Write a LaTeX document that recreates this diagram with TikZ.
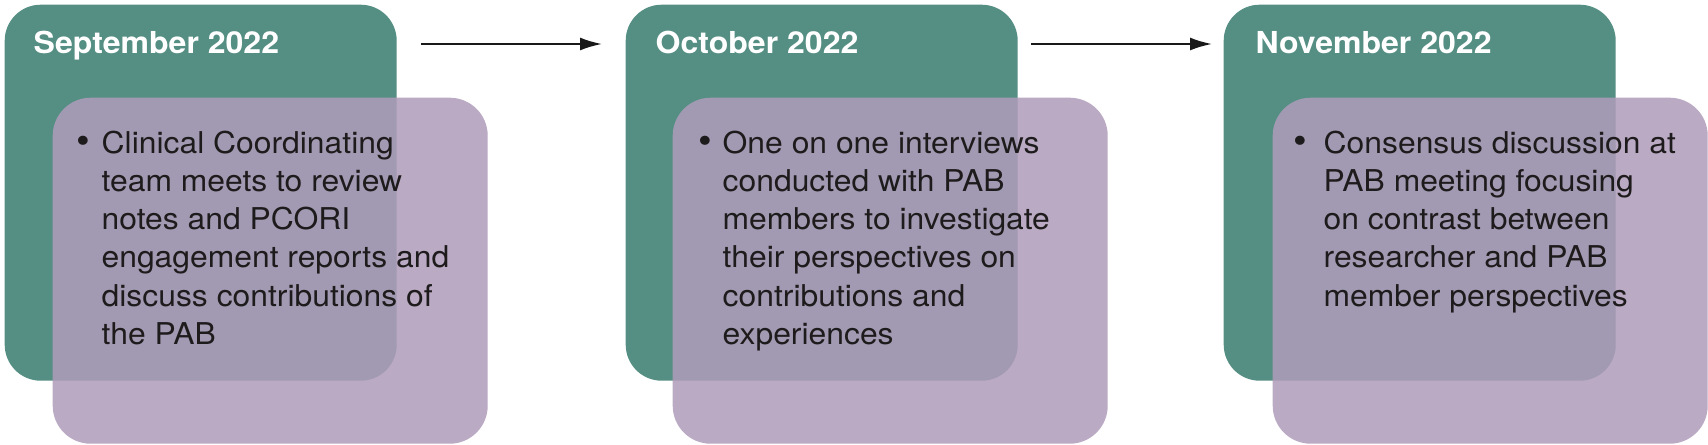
\documentclass[tikz,border=0pt]{standalone}
\usepackage{fontspec}
\setmainfont{TeX Gyre Heros}[FakeStretch=1.06]
\usepackage{xcolor}
\usetikzlibrary{arrows.meta,positioning}

\definecolor{stagegreen}{RGB}{85,142,131}
\definecolor{notepurple}{RGB}{175,156,186}
\definecolor{textdark}{RGB}{30,27,28}

\begin{document}
\begin{tikzpicture}[
  stage/.style={rectangle, rounded corners=0.36cm, fill=stagegreen, minimum width=3.92cm, minimum height=3.76cm, anchor=north west, inner sep=0pt},
  note/.style={rectangle, rounded corners=0.38cm, fill=notepurple, fill opacity=0.86, minimum width=4.35cm, minimum height=3.46cm, anchor=north west, inner sep=0pt},
  month/.style={anchor=base west, inner sep=0pt, text=white, font=\fontsize{8.6}{10.9}\selectfont\bfseries},
  dot/.style={anchor=base west, inner sep=0pt, text=textdark, font=\fontsize{10.5}{10.9}\selectfont},
  item/.style={anchor=base west, inner sep=0pt, text=textdark, font=\fontsize{8.55}{10.9}\selectfont},
  arrow/.style={-{Latex[length=2.2mm,width=1.3mm]}, line width=0.6pt, black!90}
]
\useasboundingbox (0,0) rectangle (17.08,4.44);

% Stages
\node[stage] (sept) at (0.04,4.40) {};
\node[stage] (oct) at (6.25,4.40) {};
\node[stage] (nov) at (12.23,4.40) {};

% Notes
\node[note] (septnote) at (0.52,3.47) {};
\node[note] (octnote) at (6.72,3.47) {};
\node[note] (novnote) at (12.72,3.47) {};

% Months
\node[month] (septlabel) at (0.33,3.91) {September 2022};
\node[month] (octlabel) at (6.55,3.91) {October 2022};
\node[month] (novlabel) at (12.55,3.91) {November 2022};

% Bullets
\node[dot] (septdot) at (0.76,2.91) {\textbullet};
\node[dot] (octdot) at (6.98,2.91) {\textbullet};
\node[dot] (novdot) at (12.93,2.91) {\textbullet};

% Items
\node[item] (septitem) at (1.01,2.91) {\parbox[t]{4cm}{Clinical Coordinating\\team meets to review\\notes and PCORI\\engagement reports and\\discuss contributions of\\the PAB}};
\node[item] (octitem) at (7.22,2.91) {\parbox[t]{4cm}{One on one interviews\\conducted with PAB\\members to investigate\\their perspectives on\\contributions and\\experiences}};
\node[item] (novitem) at (13.23,2.91) {\parbox[t]{4cm}{Consensus discussion at\\PAB meeting focusing\\on contrast between\\researcher and PAB\\member perspectives}};

% Arrows
\draw[arrow] ([shift={(0.24,-0.40)}]sept.north east) -- ([shift={(-0.23,-0.40)}]oct.north west);
\draw[arrow] ([shift={(0.13,-0.40)}]oct.north east) -- ([shift={(-0.11,-0.40)}]nov.north west);

\end{tikzpicture}
\end{document}
